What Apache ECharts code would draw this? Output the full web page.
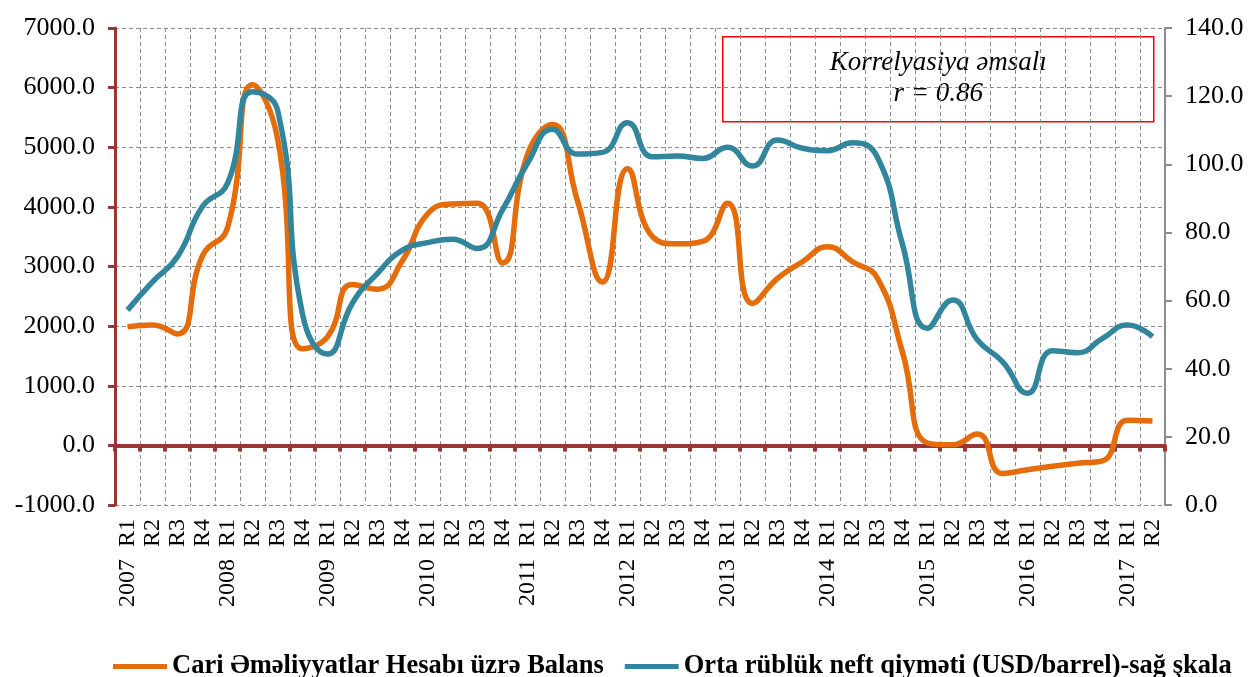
<!DOCTYPE html>
<html>
<head>
<meta charset="utf-8">
<script src="https://cdn.jsdelivr.net/npm/echarts@6/dist/echarts.min.js"></script>
<style>
html,body{margin:0;padding:0;background:#fff;}
#chart{width:1248px;height:677px;}
</style>
</head>
<body>
<div id="chart"></div>
<script>
// ---- data ----
const years = ['2007','2008','2009','2010','2011','2012','2013','2014','2015','2016','2017'];
const quarters = ['R1','R2','R3','R4'];
const nQuarters = 42; // 2007 R1 .. 2017 R2
const categories = [];
for (let i = 0; i < nQuarters; i++) {
  const y = years[Math.floor(i / 4)], q = quarters[i % 4];
  categories.push(q === 'R1' ? y + '  ' + q : q);
}
const seriesNames = ['Cari Əməliyyatlar Hesabı üzrə Balans', 'Orta rüblük neft qiyməti (USD/barrel)-sağ şkala'];
const currentAccount = [1990, 2020, 1870, 3180, 3650, 6050, 5150, 1620, 1820, 2700, 2620, 3100,
  3880, 4050, 4060, 3060, 4880, 5380, 4100, 2740, 4640, 3500, 3380, 3420,
  4060, 2380, 2800, 3080, 3330, 3080, 2800, 1560, 40, 10, 190, -470,
  -410, -350, -300, -260, 420, 410];
const oilPrice = [57.2, 65.5, 72.9, 87.6, 94.4, 121.3, 116.0, 56.0, 44.3, 59.3, 68.0, 74.8,
  77.0, 78.0, 75.3, 86.6, 100.3, 110.3, 103.0, 103.5, 112.2, 102.2, 102.4, 101.7,
  105.0, 99.5, 107.1, 104.7, 104.0, 106.3, 102.0, 76.5, 51.9, 60.2, 48.4, 42.1,
  32.8, 45.3, 44.7, 48.9, 52.8, 49.4];
const leftTicks = {min: -1000, max: 7000, interval: 1000};
const rightTicks = {min: 0, max: 140, interval: 20};
const boxLines = ['Korrelyasiya əmsalı', 'r = 0.86'];

// ---- chart ----
const FONT = "'Liberation Serif', 'Times New Roman', serif";
const DARKRED = '#9a3535';
const ORANGE = '#e46c0a';
const BLUE = '#31859c';
const chart = echarts.init(document.getElementById('chart'));
chart.setOption({
  animation: false,
  textStyle: {fontFamily: FONT, color: '#000'},
  grid: {left: 115, right: 83, top: 28, bottom: 172, containLabel: false},
  legend: {
    left: 108, top: 648, icon: 'rect', itemWidth: 54, itemHeight: 5, itemGap: 21,
    textStyle: {fontFamily: FONT, fontSize: 26.5, fontWeight: 'bold', color: '#000'},
    data: seriesNames
  },
  xAxis: [{
    type: 'category', data: categories, position: 'bottom', boundaryGap: true,
    axisLine: {show: false, onZero: false},
    axisTick: {show: false},
    axisLabel: {interval: 0, rotate: 90, margin: 14, fontSize: 24, fontFamily: FONT, color: '#000'},
    splitLine: {show: true, interval: 0, lineStyle: {color: '#8c8c8c', width: 1, type: [4, 3]}}
  }, {
    type: 'category', data: categories, position: 'bottom', boundaryGap: true,
    axisLine: {show: true, onZero: true, onZeroAxisIndex: 0, lineStyle: {color: DARKRED, width: 4}},
    axisTick: {show: true, interval: 0, length: 6, lineStyle: {color: DARKRED, width: 4}},
    axisLabel: {show: false},
    splitLine: {show: false}
  }],
  yAxis: [{
    type: 'value', position: 'left', min: leftTicks.min, max: leftTicks.max, interval: leftTicks.interval,
    axisLine: {show: true, lineStyle: {color: DARKRED, width: 3}},
    axisTick: {show: true, length: 7, lineStyle: {color: DARKRED, width: 3}},
    axisLabel: {margin: 20, fontSize: 26, fontFamily: FONT, color: '#000', formatter: v => v.toFixed(1)},
    splitLine: {show: true, lineStyle: {color: '#8c8c8c', width: 1, type: [4, 3]}}
  }, {
    type: 'value', position: 'right', min: rightTicks.min, max: rightTicks.max, interval: rightTicks.interval,
    axisLine: {show: true, lineStyle: {color: '#8c8c8c', width: 2}},
    axisTick: {show: true, length: 7, lineStyle: {color: '#8c8c8c', width: 2}},
    axisLabel: {margin: 20, fontSize: 26, fontFamily: FONT, color: '#000', formatter: v => v.toFixed(1)},
    splitLine: {show: false}
  }],
  series: [{
    name: seriesNames[0], type: 'line', xAxisIndex: 0, yAxisIndex: 0, data: currentAccount,
    smooth: 0.5, symbol: 'none', lineStyle: {color: ORANGE, width: 5.5}, itemStyle: {color: ORANGE}, z: 3
  }, {
    name: seriesNames[1], type: 'line', xAxisIndex: 0, yAxisIndex: 1, data: oilPrice,
    smooth: 0.5, symbol: 'none', lineStyle: {color: BLUE, width: 5.5}, itemStyle: {color: BLUE}, z: 4
  }],
  graphic: [{
    type: 'group', left: 722, top: 36, z: 100,
    children: [{
      type: 'rect', shape: {x: 0, y: 0, width: 431, height: 85},
      style: {fill: '#fff', stroke: '#ff0000', lineWidth: 1.5}
    }, {
      type: 'text', x: 215.5, y: 26,
      style: {text: boxLines[0], font: 'italic 27px ' + FONT, fill: '#000', align: 'center', verticalAlign: 'middle'}
    }, {
      type: 'text', x: 215.5, y: 57,
      style: {text: boxLines[1], font: 'italic 27px ' + FONT, fill: '#000', align: 'center', verticalAlign: 'middle'}
    }]
  }]
});
</script>
</body>
</html>
